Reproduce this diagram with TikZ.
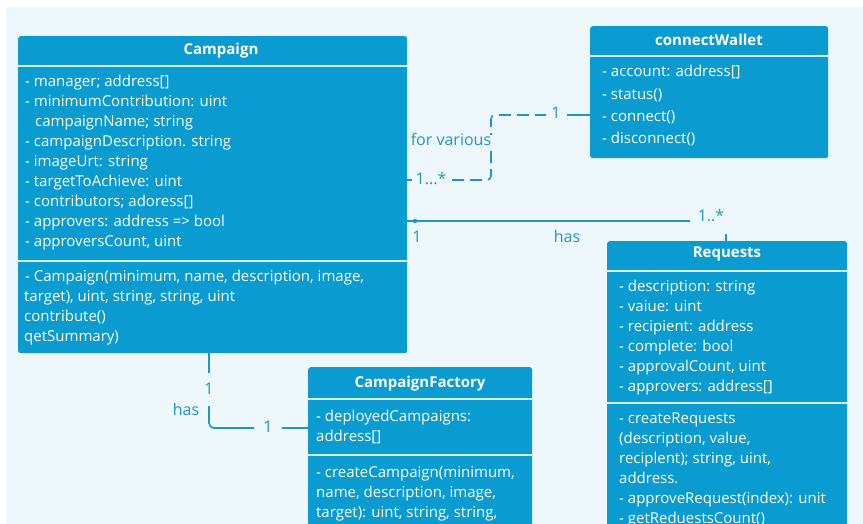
\documentclass[tikz,border=0pt]{standalone}
\usepackage{fontspec}
\setmainfont{Open Sans}
\definecolor{boxblue}{HTML}{0A9BD0}
\definecolor{linkblue}{HTML}{1E96CA}
\definecolor{bgblue}{HTML}{EEF7FB}
\definecolor{divline}{HTML}{D8EEF7}
\begin{document}
\begin{tikzpicture}[x=1pt,y=-1pt,
  box/.style={fill=boxblue, rounded corners=2.5pt, draw=none, inner sep=0pt, anchor=north west},
  divider/.style={draw=divline, line width=1.6pt},
  txt/.style={text=white, anchor=west, inner sep=0pt, text height=11pt, text depth=3pt, font=\fontsize{15}{18}\selectfont},
  ttl/.style={text=white, inner sep=0pt, text height=11pt, text depth=3pt, font=\fontsize{15}{18}\selectfont\bfseries},
  lbl/.style={text=linkblue, inner sep=0pt, text height=11pt, text depth=3pt, font=\fontsize{16}{18}\selectfont},
  conn/.style={draw=linkblue, line width=1.6pt},
  dconn/.style={conn, dash pattern=on 12pt off 6pt}]
\useasboundingbox (0,0) rectangle (863,524);
\clip (0,0) rectangle (863,524);
\fill[white] (0,0) rectangle (863,524);
\fill[bgblue] (6,7) rectangle (863,524);

% boxes
\node[box, minimum width=389pt, minimum height=317pt] (camp) at (18,36) {};
\node[box, minimum width=238pt, minimum height=132pt] (cw) at (590,26) {};
\node[box, minimum width=240pt, minimum height=300pt] (req) at (607,241) {};
\node[box, minimum width=224pt, minimum height=175pt] (cf) at (308,367) {};

% dividers
\draw[divider] ([yshift=-30pt]camp.north west) -- ([yshift=-30pt]camp.north east);
\draw[divider] ([yshift=-225pt]camp.north west) -- ([yshift=-225pt]camp.north east);
\draw[divider] ([yshift=-30pt]cw.north west) -- ([yshift=-30pt]cw.north east);
\draw[divider] ([yshift=-30pt]req.north west) -- ([yshift=-30pt]req.north east);
\draw[divider] ([yshift=-162pt]req.north west) -- ([yshift=-162pt]req.north east);
\draw[divider] ([yshift=-32pt]cf.north west) -- ([yshift=-32pt]cf.north east);
\draw[divider] ([yshift=-88pt]cf.north west) -- ([yshift=-88pt]cf.north east);

% titles
\node[ttl] (campT) at (221,51) {Campaign};
\node[ttl] (cwT) at (709,42) {connectWallet};
\node[ttl] (reqT) at (727,254) {Requests};
\node[ttl] (cfT) at (420,383) {CampaignFactory};

% Campaign attributes
\foreach \x/\y/\t [count=\i] in {
  25/83/{- manager; address[]},
  25/103/{- minimumContribution: uint},
  35/123/{campaignName; string},
  25/143/{- campaignDescription. string},
  25/163/{- imageUrt: string},
  25/183/{- targetToAchieve: uint},
  25/203/{- contributors; adoress[]},
  25/223/{- approvers: address => bool},
  25/243/{- approversCount, uint},
  25/277/{- Campaign(minimum, name, description, image,},
  24/297/{target), uint, string, string, uint},
  24/317/{contribute()},
  24/337/{qetSummary)}}
  \node[txt] (ca\i) at (\x,\y) {\t};

% connectWallet
\foreach \y/\t [count=\i] in {
  73/{- account: address[]},
  96/{- status()},
  118/{- connect()},
  140/{- disconnect()}}
  \node[txt] (cw\i) at (602,\y) {\t};

% Requests
\foreach \y/\t [count=\i] in {
  287/{- description: string},
  307/{- vaiue: uint},
  327/{- recipient: address},
  347/{- complete: bool},
  367/{- approvalCount, uint},
  387/{- approvers: address[]},
  419/{- createRequests},
  439/{(description, value,},
  459/{reciplent); string, uint,},
  479/{address.},
  499/{- approveRequest(index): unit},
  519/{- getReduestsCount()}}
  \node[txt] (rq\i) at (619,\y) {\t};

% CampaignFactory
\foreach \y/\t [count=\i] in {
  417/{- deployedCampaigns:},
  437/{address[]},
  473/{- createCampaign(minimum,},
  493/{name, description, image,},
  513/{target): uint, string, string,}}
  \node[txt] (cf\i) at (316,\y) {\t};

% connector Campaign -- connectWallet (for various)
\coordinate (d0) at (camp.east |- 0,180);
\coordinate (d4) at (cw.west |- 0,115);
\draw[conn] (d0) -- ++(5,0);
\node[lbl] (m1) at (431,181) {1...*};
\draw[dconn, rounded corners=4pt] (452,180) -- (491,180) -- (491,115) -- (546,115);
\node[lbl] (m2) at (556,115) {1};
\draw[conn] (567,115) -- (d4);
\node[lbl, fill=bgblue, inner xsep=1pt] (fv) at (451,142) {for various};

% connector Campaign -- Requests (has)
\coordinate (h0) at (camp.east |- 0,221);
\coordinate (h1) at (690,221);
\draw[conn] (h0) -- (h1);
\fill[linkblue] (415,221) circle (2.2pt);
\node[lbl] (m3) at (711,218) {1..*};
\coordinate (h2) at (726,234);
\draw[conn] (h2) -- (req.north -| h2);
\node[lbl] (m4) at (417,239) {1};
\node[lbl] (hs1) at (567,239) {has};

% connector Campaign -- CampaignFactory (has)
\coordinate (f0) at (camp.south -| 209,0);
\draw[conn] (f0) -- (209,373);
\node[lbl] (m5) at (209,390) {1};
\node[lbl] (hs2) at (186,411) {has};
\draw[conn, rounded corners=5pt] (209,406) -- (209,428) -- (254,428);
\node[lbl] (m6) at (268,428) {1};
\coordinate (f1) at (cf.west |- 0,428);
\draw[conn] (282,428) -- (f1);
\end{tikzpicture}
\end{document}
